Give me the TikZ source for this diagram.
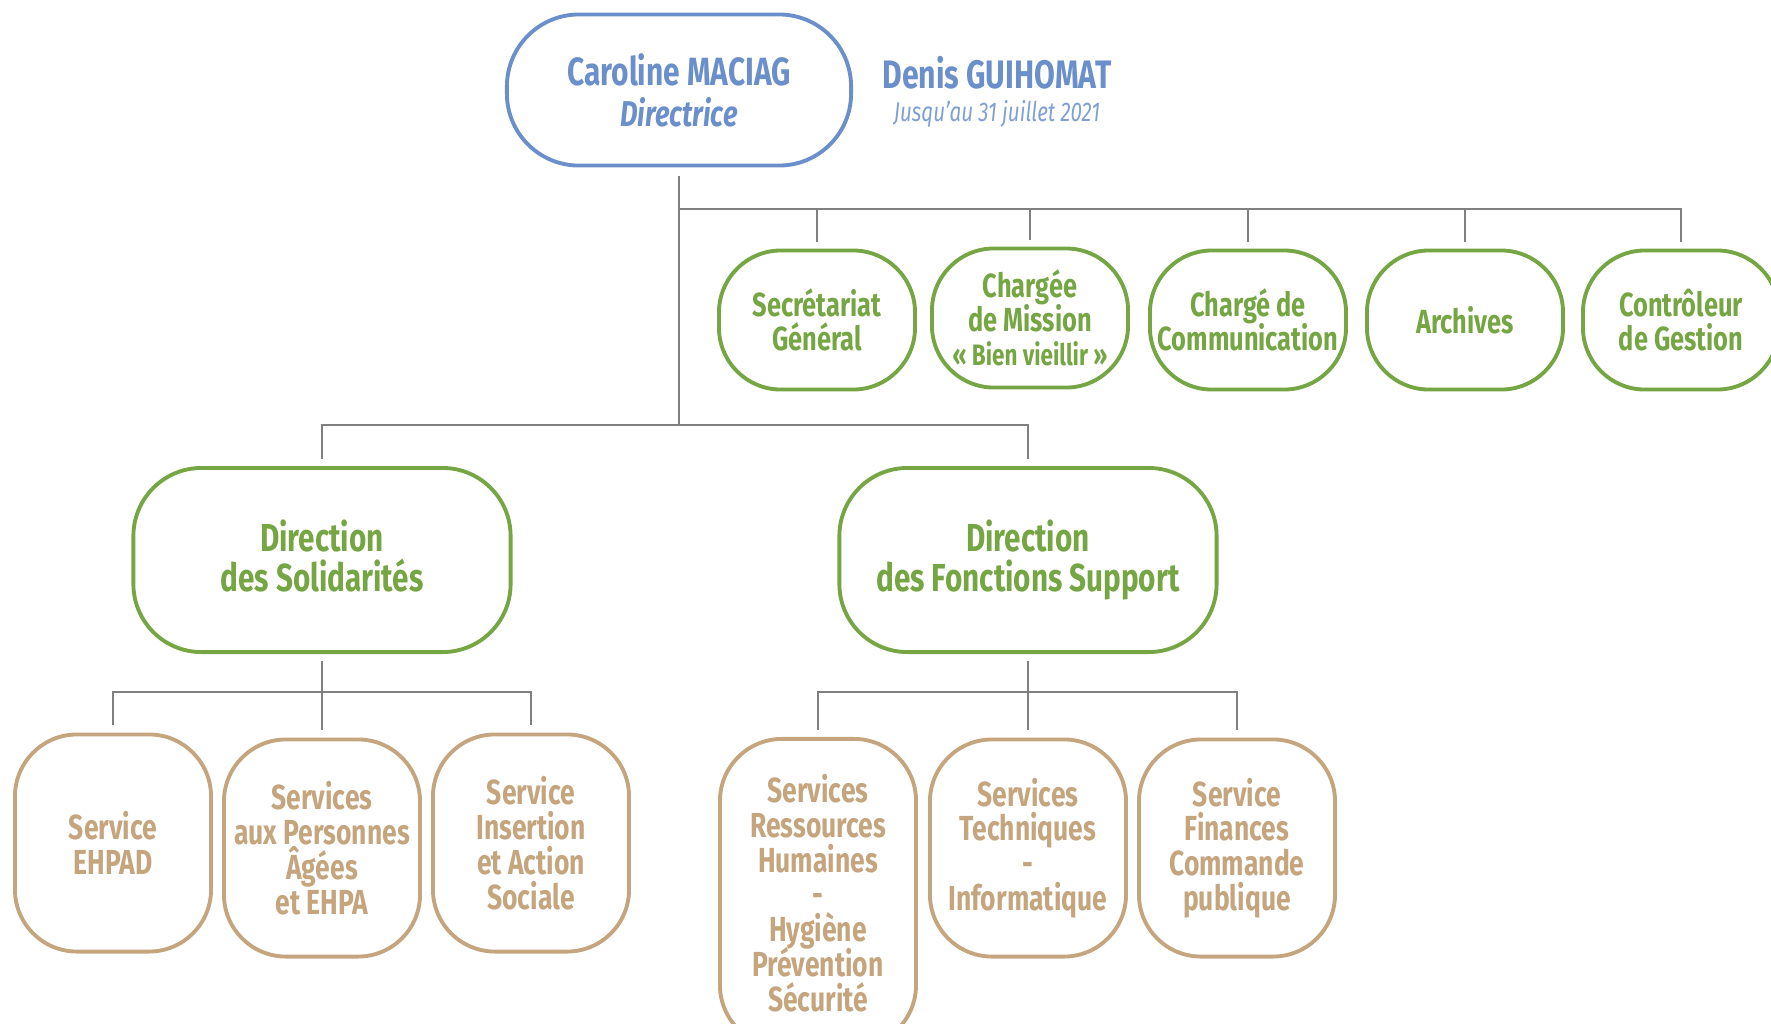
\documentclass[tikz,border=0pt]{standalone}
\usepackage{fontspec}
\setmainfont{Fira Sans}
\newfontfamily\condfont[FakeStretch=0.76]{Fira Sans}
\usetikzlibrary{positioning}
\definecolor{chefblue}{RGB}{106,143,203}
\definecolor{dirgreen}{RGB}{118,165,67}
\definecolor{servtan}{RGB}{196,165,126}
\definecolor{linkgrey}{RGB}{128,128,128}
\lineskiplimit=-10pt

\begin{document}
\begin{tikzpicture}[x=0.01cm,y=-0.01cm,
		every node/.style={align=center,font=\condfont\bfseries},
		chef/.style={draw=chefblue,line width=1.1pt,rounded corners=0.72cm,minimum width=3.44cm,minimum height=1.51cm,text=chefblue,font=\condfont\bfseries\fontsize{11.2}{11.6}\selectfont},
		mission/.style={draw=dirgreen,line width=1.1pt,rounded corners=0.62cm,minimum width=1.96cm,minimum height=1.39cm,text=dirgreen,inner sep=1pt,font=\condfont\bfseries\fontsize{9.5}{9.6}\selectfont},
		direction/.style={draw=dirgreen,line width=1.1pt,rounded corners=0.68cm,minimum width=3.77cm,minimum height=1.84cm,text=dirgreen,font=\condfont\bfseries\fontsize{11.1}{11.4}\selectfont},
		service/.style={draw=servtan,line width=1.1pt,rounded corners=0.62cm,minimum width=1.96cm,minimum height=2.17cm,text=servtan,inner sep=1pt,font=\condfont\bfseries\fontsize{9.9}{9.9}\selectfont},
		link/.style={draw=linkgrey,line width=0.8pt,shorten >=2pt}]
%	\useasboundingbox fixes the page to the reference size
	\useasboundingbox (0,0) rectangle (1771,1023);
	\node[chef] (dir) at (679,90) {Caroline MACIAG\\{\itshape\fontsize{10.2}{11.6}\selectfont Directrice}};
	\node[text=chefblue,font=\condfont\bfseries\fontsize{11.3}{12}\selectfont] (guih) at (997,73) {Denis GUIHOMAT};
	\node[text=chefblue!85,font=\condfont\itshape\fontsize{7.7}{9}\selectfont] (guihdate) at (997,114) {Jusqu’au 31 juillet 2021};
	% missions attached to the direction
	\node[mission] (sg) at (817,320) {Secrétariat\\Général};
	\node[mission] (cmbv) at (1030,318) {Chargée\\de Mission\\{\fontsize{8.4}{9.6}\selectfont « Bien vieillir »}};
	\node[mission] (ccom) at (1248,320) {Chargé de\\Communication};
	\node[mission] (arch) at (1465,320) {Archives};
	\node[mission] (cgest) at (1681,320) {Contrôleur\\de Gestion};
	% directions
	\node[direction] (dsol) at (322,560) {Direction\\des Solidarités\vphantom{p}};
	\node[direction] (dfs) at (1028,560) {Direction\\des Fonctions Support};
	% services
	\node[service] (ehpad) at (113,843) {Service\\EHPAD};
	\node[service] (spa) at (322,848) {Services\\aux Personnes\\Âgées\\et EHPA};
	\node[service] (sias) at (531,843) {Service\\Insertion\\et Action\\Sociale};
	\node[service,minimum height=3.08cm] (srh) at (818,893) {Services\\Ressources\\Humaines\\-\\Hygiène\\Prévention\\Sécurité};
	\node[service] (stech) at (1028,848) {Services\\Techniques\\-\\Informatique};
	\node[service] (sfin) at (1237,848) {Service\\Finances\\Commande\\publique};
	\coordinate (bustop) at (679,209);
	\coordinate (busdir) at (679,425);
	\coordinate (bussol) at (322,692);
	\coordinate (busfs) at (1028,692);
	\draw[link,shorten <=0.09cm,shorten >=0pt] (dir.south) -- (busdir);
	\foreach \n in {sg,cmbv,ccom,arch,cgest}
		\draw[link] (bustop) -| (\n.north);
	\draw[link] (busdir) -| (dsol.north);
	\draw[link] (busdir) -| (dfs.north);
	\draw[link,shorten <=2pt,shorten >=0pt] (dsol.south) -- (bussol);
	\foreach \n in {ehpad,spa,sias}
		\draw[link] (bussol) -| (\n.north);
	\draw[link,shorten <=2pt,shorten >=0pt] (dfs.south) -- (busfs);
	\foreach \n in {srh,stech,sfin}
		\draw[link] (busfs) -| (\n.north);
\end{tikzpicture}
\end{document}
